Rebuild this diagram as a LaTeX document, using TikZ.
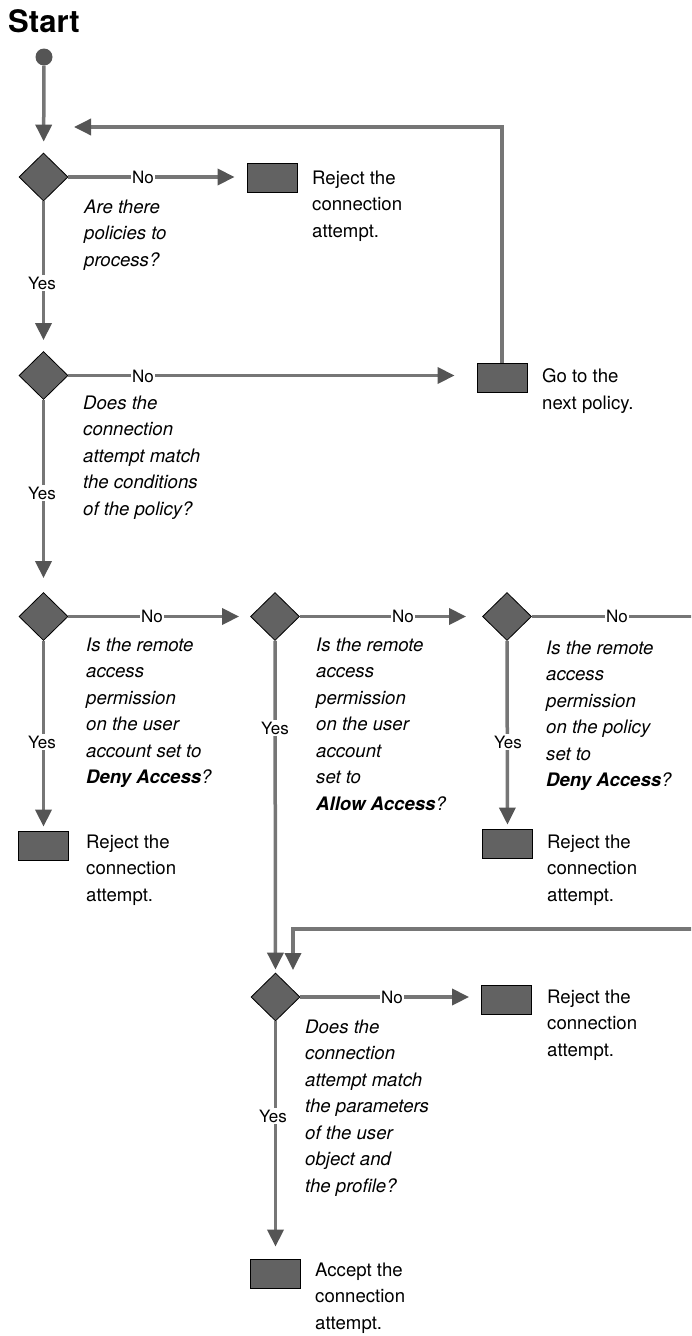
\documentclass[tikz,border=0pt]{standalone}
\usepackage{fontspec}
\setmainfont{TeX Gyre Heros}
\usetikzlibrary{arrows.meta,shapes.geometric}
\definecolor{linegray}{HTML}{767676}
\definecolor{headgray}{HTML}{555555}
\definecolor{shapegray}{HTML}{626262}
\begin{document}
\begin{tikzpicture}[x=1pt,y=-1pt,
  conn/.style={draw=linegray, line width=3.5pt, -{Triangle[length=17pt,width=16pt,color=headgray]}},
  plain/.style={draw=linegray, line width=3.5pt},
  dec/.style={diamond, draw=black, fill=shapegray, line width=0.8pt, minimum width=49pt, minimum height=48pt, inner sep=0pt},
  term/.style={rectangle, draw=black, fill=shapegray, line width=0.8pt, minimum width=50pt, minimum height=29pt, inner sep=0pt},
  lbl/.style={fill=white, inner sep=1.2pt, font=\fontsize{17}{20}\selectfont},
  txt/.style={anchor=north west, align=left, inner sep=0pt, font=\fontsize{18.6}{26.5}\selectfont},
  itx/.style={txt, font=\fontsize{18.6}{26.5}\selectfont\itshape}]
\path[use as bounding box] (0,0) rectangle (691,1336);
\clip (0,0) rectangle (691,1336);

% start
\node[anchor=base west, inner sep=0pt, font=\fontsize{31}{36}\selectfont\bfseries] (start) at (8,32) {Start};
\node[circle, fill=headgray, minimum size=17pt, inner sep=0pt] (dot) at (44,57) {};

% decisions
\node[dec] (d1) at (43.5,177) {};
\node[dec] (d2) at (43.5,375.5) {};
\node[dec] (d3) at (43.5,616.5) {};
\node[dec] (d4) at (275,616.5) {};
\node[dec] (d5) at (507,616.5) {};
\node[dec] (d6) at (275.5,997) {};

% terminals
\node[term] (b1) at (272,178) {};
\node[term] (b2) at (502,378) {};
\node[term] (b3) at (43.5,845.5) {};
\node[term] (b4) at (507.5,843.5) {};
\node[term] (b5) at (506.5,999.5) {};
\node[term] (b6) at (275.5,1273.5) {};

\coordinate (back) at (74,127);
\coordinate (edgeA) at (700,616.5);
\coordinate (edgeB) at (700,929);
\coordinate (in6) at (293,970);

% connectors
\draw[conn, shorten >=11pt] (dot) -- (d1);
\draw[conn, shorten >=12pt] (d1.east) -- (d1.east -| b1.west);
\draw[conn, shorten >=11pt] (d1) -- (d2);
\draw[conn, shorten >=22pt] (d2.east) -- (d2.east -| b2.west);
\draw[conn] (b2.north) |- (back);
\draw[conn, shorten >=14pt] (d2) -- (d3);
\draw[conn, shorten >=11pt] (d3.east) -- (d4.west);
\draw[conn, shorten >=4pt] (d3) -- (b3);
\draw[conn, shorten >=16pt] (d4.east) -- (d5.west);
\draw[conn, shorten >=3pt] (d4) -- (d6);
\draw[plain] (d5.east) -- (edgeA);
\draw[conn] (edgeB) -| (in6);
\draw[conn, shorten >=4pt] (d5) -- (b4);
\draw[conn, shorten >=12pt] (d6.east) -- (d6.east -| b5.west);
\draw[conn, shorten >=12pt] (d6) -- (b6);

% connector labels
\node[lbl] (n1) at (143,177) {No};
\node[lbl] (n2) at (143,376) {No};
\node[lbl] (n3) at (152,616.5) {No};
\node[lbl] (n4) at (403,616.5) {No};
\node[lbl] (n5) at (617,616.5) {No};
\node[lbl] (n6) at (392,997) {No};
\node[lbl] (y1) at (42,283) {Yes};
\node[lbl] (y2) at (42,493) {Yes};
\node[lbl] (y3) at (42,742) {Yes};
\node[lbl] (y4) at (275,728) {Yes};
\node[lbl] (y5) at (508,742) {Yes};
\node[lbl] (y6) at (273,1116) {Yes};

% texts
\node[txt] (t1) at (312,170.5) {Reject the\\connection\\attempt.};
\node[itx] (q1) at (84,199.5) {Are there\\policies to\\process?};
\node[txt] (t2) at (542,368.5) {Go to the\\next policy.};
\node[itx] (q2) at (83,395.5) {Does the\\connection\\attempt match\\the conditions\\of the policy?};
\node[itx] (q3) at (86,637.5) {Is the remote\\access\\permission\\on the user\\account set to\\\textbf{Deny Access}?};
\node[itx] (q4) at (316,637.5) {Is the remote\\access\\permission\\on the user\\account\\set to\\\textbf{Allow Access}?};
\node[itx] (q5) at (546,640.5) {Is the remote\\access\\permission\\on the policy\\set to\\\textbf{Deny Access}?};
\node[txt] (t3) at (86,834.5) {Reject the\\connection\\attempt.};
\node[txt] (t4) at (547,834.5) {Reject the\\connection\\attempt.};
\node[txt] (t5) at (547,989.5) {Reject the\\connection\\attempt.};
\node[itx] (q6) at (305,1019.5) {Does the\\connection\\attempt match\\the parameters\\of the user\\object and\\the profile?};
\node[txt] (t6) at (315,1262.5) {Accept the\\connection\\attempt.};
\end{tikzpicture}
\end{document}
